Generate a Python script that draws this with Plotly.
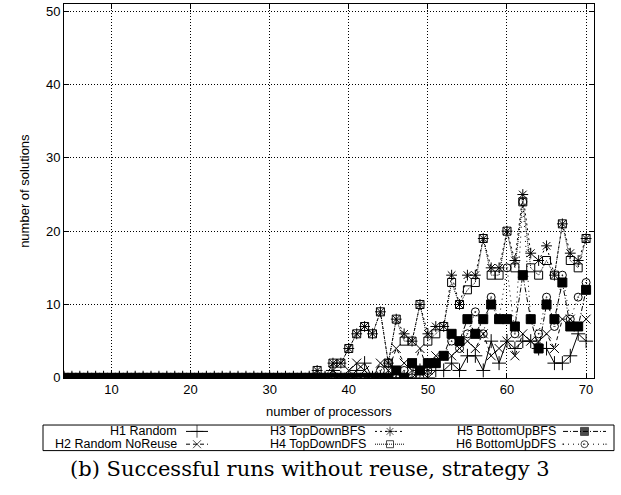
import plotly.graph_objects as go

procs = list(range(4, 71))
zeros = [0] * (36 - 4)  # 4..35

# values for processors 36..70
h1_tail = [0, 0, 1, 0, 0, 1, 2, 0, 0, 0, 0, 0, 0, 1, 0, 1, 1, 2, 1, 3, 3, 1, 5, 2, 5, 4, 5, 5, 4, 4, 2, 2, 3, 6, 5]
h2_tail = [0, 0, 1, 0, 1, 2, 1, 0, 2, 1, 4, 2, 1, 4, 1, 3, 3, 3, 4, 5, 4, 6, 3, 4, 5, 3, 6, 5, 5, 6, 4, 8, 8, 7, 8]
h3_tail = [1, 0, 2, 2, 4, 6, 7, 6, 9, 2, 8, 6, 5, 10, 6, 7, 7, 14, 10, 14, 14, 19, 15, 15, 20, 16, 25, 17, 16, 18, 14, 21, 17, 16, 19]
h4_tail = [1, 0, 2, 2, 4, 6, 7, 6, 9, 2, 8, 5, 5, 10, 5, 6, 7, 13, 10, 12, 13, 19, 14, 14, 20, 15, 24, 15, 14, 16, 14, 21, 16, 15, 19]
h5_tail = [0, 0, 0, 0, 0, 0, 0, 0, 0, 0, 1, 0, 2, 1, 2, 2, 3, 6, 5, 8, 6, 8, 10, 8, 8, 7, 14, 8, 4, 10, 8, 13, 7, 7, 12]
h6_tail = [0, 0, 0, 0, 0, 0, 0, 0, 1, 2, 0, 1, 0, 0, 1, 2, 3, 5, 4, 6, 9, 6, 11, 8, 15, 6, 24, 8, 6, 11, 7, 14, 8, 11, 13]

h1 = zeros + h1_tail
h2 = zeros + h2_tail
h3 = zeros + h3_tail
h4 = zeros + h4_tail
h5 = zeros + h5_tail
h6 = zeros + h6_tail

names = ["H1 Random", "H2 Random NoReuse", "H3 TopDownBFS", "H4 TopDownDFS", "H5 BottomUpBFS", "H6 BottomUpDFS"]
series = [h1, h2, h3, h4, h5, h6]
symbols = ["cross-thin-open", "x-thin-open", "asterisk-open", "square-open", "square", "circle-open-dot"]
dashes = ["solid", "4px,3px", "2px,3px", "1px,1px", "5px,2px,1px,2px", "1px,4px"]
sizes = [10, 9, 9, 8, 9, 8]

W, H = 621, 495
PL, PR, PT, PB = 64, 594, 4, 384

fig = go.Figure()
for name, ys, sym, dash, sz in zip(names, series, symbols, dashes, sizes):
    fig.add_trace(go.Scatter(
        x=procs, y=ys, mode="lines+markers", name=name,
        line=dict(color="black", width=1, dash=dash),
        marker=dict(symbol=sym, size=sz, color="black",
                    line=dict(color="black", width=1)),
        showlegend=False, xaxis="x", yaxis="y"))

# custom gnuplot-style legend (keys on a helper axis)
cols_text_right = [179, 368, 558]
cols_sample = [(186, 208), (375, 405), (563, 606)]
for i, (name, sym, dash, sz) in enumerate(zip(names, symbols, dashes, sizes)):
    c, r = i // 2, i % 2
    x0, x1 = cols_sample[c]
    fig.add_trace(go.Scatter(
        x=[x0, (x0 + x1) / 2, x1], y=[r, r, r], mode="lines+markers",
        line=dict(color="black", width=1, dash=dash),
        marker=dict(symbol=sym, size=[0, sz - 1, 0], color="black",
                    line=dict(color="black", width=1)),
        showlegend=False, xaxis="x2", yaxis="y2", hoverinfo="skip"))
    fig.add_annotation(x=cols_text_right[c], y=r, xref="x2", yref="y2",
                       text=name, showarrow=False, xanchor="right", yanchor="middle",
                       font=dict(family="Liberation Sans, Arial", size=12.5, color="black"))

grid = dict(showgrid=True, gridcolor="black", griddash="1px,2px", gridwidth=1)
fig.update_layout(
    width=W, height=H,
    margin=dict(l=0, r=0, t=0, b=0),
    paper_bgcolor="white", plot_bgcolor="white",
    font=dict(family="Liberation Sans, Arial", size=12, color="black"),
    xaxis=dict(domain=[PL / W, PR / W], range=[4, 71], tickvals=[10, 20, 30, 40, 50, 60, 70],
               ticks="inside", ticklen=5, tickcolor="black", showline=True, linecolor="black",
               linewidth=1, mirror="allticks", zeroline=False, tickfont=dict(size=13),
               anchor="y", **grid),
    yaxis=dict(domain=[1 - PB / H, 1 - PT / H], range=[0, 51], tickvals=[0, 10, 20, 30, 40, 50],
               ticks="inside", ticklen=5, tickcolor="black", showline=True, linecolor="black",
               linewidth=1, mirror="allticks", zeroline=False, tickfont=dict(size=13),
               anchor="x", **grid),
    xaxis2=dict(domain=[43 / W, 614 / W], range=[43, 614], visible=False, anchor="y2", fixedrange=True),
    yaxis2=dict(domain=[1 - 458 / H, 1 - 432 / H], range=[1.5, -0.5], visible=False, anchor="x2", fixedrange=True),
    shapes=[dict(type="rect", xref="paper", yref="paper", x0=43 / W, x1=614 / W,
                 y0=1 - 458 / H, y1=1 - 432 / H, line=dict(color="black", width=1))],
)
fig.add_annotation(x=(PL + PR) / 2 / W, y=1 - 418 / H, xref="paper", yref="paper",
                   text="number of processors", showarrow=False,
                   font=dict(size=13), yanchor="middle")
fig.add_annotation(x=25 / W, y=1 - (PT + PB) / 2 / H, xref="paper", yref="paper",
                   text="number of solutions", showarrow=False, textangle=-90,
                   font=dict(size=13), xanchor="center")
fig.add_annotation(x=310 / W, y=1 - 477 / H, xref="paper", yref="paper",
                   text="(b) Successful runs without reuse, strategy 3", showarrow=False,
                   font=dict(family="DejaVu Serif, Liberation Serif, serif", size=21), yanchor="middle")

fig.write_html("out.html")
